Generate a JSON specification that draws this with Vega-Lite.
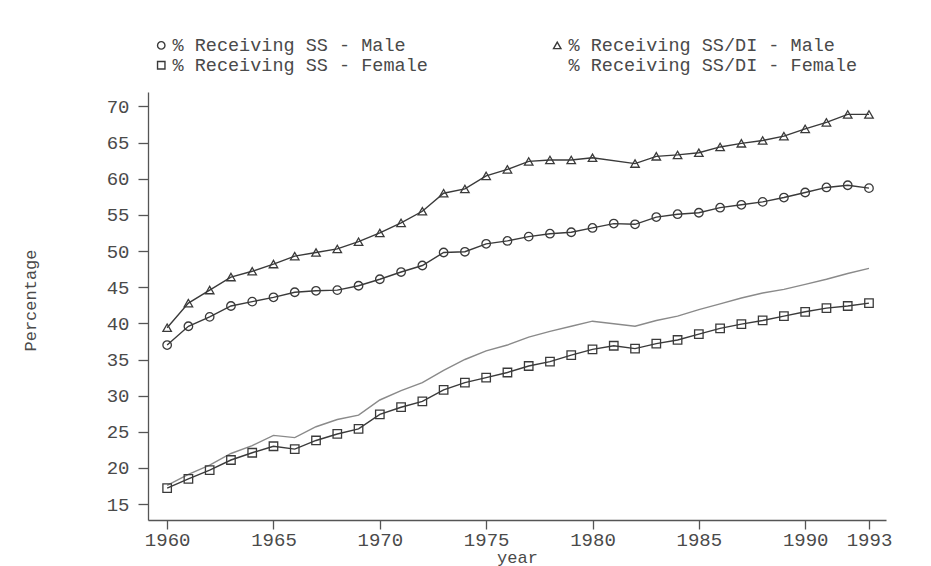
{
  "$schema": "https://vega.github.io/schema/vega-lite/v6.json",
  "autosize": {"type": "none"},
  "width": 738,
  "height": 428,
  "padding": {"left": 148, "top": 92, "right": 45, "bottom": 46},
  "background": "white",
  "config": {
    "view": {"stroke": null},
    "font": "Liberation Mono",
    "axis": {
      "grid": false,
      "domainColor": "#555555",
      "domainWidth": 1.3,
      "tickColor": "#555555",
      "tickWidth": 1.3,
      "labelColor": "#4a4a4a",
      "titleColor": "#4a4a4a",
      "labelFont": "Liberation Mono",
      "titleFont": "Liberation Mono",
      "labelFontSize": 19,
      "titleFontSize": 17,
      "titleFontWeight": "normal"
    },
    "legend": {"labelFont": "Liberation Mono", "labelFontSize": 18.5, "labelColor": "#4a4a4a", "labelLimit": 500}
  },
  "data": {
    "values": [
      {"year": 1960, "series": "% Receiving SS - Male", "value": 37.0},
      {"year": 1961, "series": "% Receiving SS - Male", "value": 39.6},
      {"year": 1962, "series": "% Receiving SS - Male", "value": 40.9},
      {"year": 1963, "series": "% Receiving SS - Male", "value": 42.4},
      {"year": 1964, "series": "% Receiving SS - Male", "value": 43.0},
      {"year": 1965, "series": "% Receiving SS - Male", "value": 43.6},
      {"year": 1966, "series": "% Receiving SS - Male", "value": 44.3},
      {"year": 1967, "series": "% Receiving SS - Male", "value": 44.5},
      {"year": 1968, "series": "% Receiving SS - Male", "value": 44.6},
      {"year": 1969, "series": "% Receiving SS - Male", "value": 45.2},
      {"year": 1970, "series": "% Receiving SS - Male", "value": 46.1},
      {"year": 1971, "series": "% Receiving SS - Male", "value": 47.1},
      {"year": 1972, "series": "% Receiving SS - Male", "value": 48.0},
      {"year": 1973, "series": "% Receiving SS - Male", "value": 49.8},
      {"year": 1974, "series": "% Receiving SS - Male", "value": 49.9},
      {"year": 1975, "series": "% Receiving SS - Male", "value": 51.0},
      {"year": 1976, "series": "% Receiving SS - Male", "value": 51.4},
      {"year": 1977, "series": "% Receiving SS - Male", "value": 52.0},
      {"year": 1978, "series": "% Receiving SS - Male", "value": 52.4},
      {"year": 1979, "series": "% Receiving SS - Male", "value": 52.6},
      {"year": 1980, "series": "% Receiving SS - Male", "value": 53.2},
      {"year": 1981, "series": "% Receiving SS - Male", "value": 53.8},
      {"year": 1982, "series": "% Receiving SS - Male", "value": 53.7},
      {"year": 1983, "series": "% Receiving SS - Male", "value": 54.7},
      {"year": 1984, "series": "% Receiving SS - Male", "value": 55.1},
      {"year": 1985, "series": "% Receiving SS - Male", "value": 55.3},
      {"year": 1986, "series": "% Receiving SS - Male", "value": 56.0},
      {"year": 1987, "series": "% Receiving SS - Male", "value": 56.4},
      {"year": 1988, "series": "% Receiving SS - Male", "value": 56.8},
      {"year": 1989, "series": "% Receiving SS - Male", "value": 57.4},
      {"year": 1990, "series": "% Receiving SS - Male", "value": 58.1},
      {"year": 1991, "series": "% Receiving SS - Male", "value": 58.8},
      {"year": 1992, "series": "% Receiving SS - Male", "value": 59.1},
      {"year": 1993, "series": "% Receiving SS - Male", "value": 58.7},

      {"year": 1960, "series": "% Receiving SS/DI - Male", "value": 39.4},
      {"year": 1961, "series": "% Receiving SS/DI - Male", "value": 42.8},
      {"year": 1962, "series": "% Receiving SS/DI - Male", "value": 44.6},
      {"year": 1963, "series": "% Receiving SS/DI - Male", "value": 46.4},
      {"year": 1964, "series": "% Receiving SS/DI - Male", "value": 47.2},
      {"year": 1965, "series": "% Receiving SS/DI - Male", "value": 48.2},
      {"year": 1966, "series": "% Receiving SS/DI - Male", "value": 49.3},
      {"year": 1967, "series": "% Receiving SS/DI - Male", "value": 49.8},
      {"year": 1968, "series": "% Receiving SS/DI - Male", "value": 50.3},
      {"year": 1969, "series": "% Receiving SS/DI - Male", "value": 51.3},
      {"year": 1970, "series": "% Receiving SS/DI - Male", "value": 52.5},
      {"year": 1971, "series": "% Receiving SS/DI - Male", "value": 53.9},
      {"year": 1972, "series": "% Receiving SS/DI - Male", "value": 55.5},
      {"year": 1973, "series": "% Receiving SS/DI - Male", "value": 58.0},
      {"year": 1974, "series": "% Receiving SS/DI - Male", "value": 58.6},
      {"year": 1975, "series": "% Receiving SS/DI - Male", "value": 60.4},
      {"year": 1976, "series": "% Receiving SS/DI - Male", "value": 61.3},
      {"year": 1977, "series": "% Receiving SS/DI - Male", "value": 62.4},
      {"year": 1978, "series": "% Receiving SS/DI - Male", "value": 62.6},
      {"year": 1979, "series": "% Receiving SS/DI - Male", "value": 62.6},
      {"year": 1980, "series": "% Receiving SS/DI - Male", "value": 62.9},
      {"year": 1982, "series": "% Receiving SS/DI - Male", "value": 62.1},
      {"year": 1983, "series": "% Receiving SS/DI - Male", "value": 63.1},
      {"year": 1984, "series": "% Receiving SS/DI - Male", "value": 63.3},
      {"year": 1985, "series": "% Receiving SS/DI - Male", "value": 63.6},
      {"year": 1986, "series": "% Receiving SS/DI - Male", "value": 64.4},
      {"year": 1987, "series": "% Receiving SS/DI - Male", "value": 64.9},
      {"year": 1988, "series": "% Receiving SS/DI - Male", "value": 65.3},
      {"year": 1989, "series": "% Receiving SS/DI - Male", "value": 65.9},
      {"year": 1990, "series": "% Receiving SS/DI - Male", "value": 66.9},
      {"year": 1991, "series": "% Receiving SS/DI - Male", "value": 67.8},
      {"year": 1992, "series": "% Receiving SS/DI - Male", "value": 68.9},
      {"year": 1993, "series": "% Receiving SS/DI - Male", "value": 68.9},

      {"year": 1960, "series": "% Receiving SS - Female", "value": 17.2},
      {"year": 1961, "series": "% Receiving SS - Female", "value": 18.5},
      {"year": 1962, "series": "% Receiving SS - Female", "value": 19.7},
      {"year": 1963, "series": "% Receiving SS - Female", "value": 21.1},
      {"year": 1964, "series": "% Receiving SS - Female", "value": 22.1},
      {"year": 1965, "series": "% Receiving SS - Female", "value": 23.0},
      {"year": 1966, "series": "% Receiving SS - Female", "value": 22.6},
      {"year": 1967, "series": "% Receiving SS - Female", "value": 23.8},
      {"year": 1968, "series": "% Receiving SS - Female", "value": 24.7},
      {"year": 1969, "series": "% Receiving SS - Female", "value": 25.4},
      {"year": 1970, "series": "% Receiving SS - Female", "value": 27.4},
      {"year": 1971, "series": "% Receiving SS - Female", "value": 28.4},
      {"year": 1972, "series": "% Receiving SS - Female", "value": 29.2},
      {"year": 1973, "series": "% Receiving SS - Female", "value": 30.8},
      {"year": 1974, "series": "% Receiving SS - Female", "value": 31.8},
      {"year": 1975, "series": "% Receiving SS - Female", "value": 32.5},
      {"year": 1976, "series": "% Receiving SS - Female", "value": 33.2},
      {"year": 1977, "series": "% Receiving SS - Female", "value": 34.1},
      {"year": 1978, "series": "% Receiving SS - Female", "value": 34.7},
      {"year": 1979, "series": "% Receiving SS - Female", "value": 35.6},
      {"year": 1980, "series": "% Receiving SS - Female", "value": 36.4},
      {"year": 1981, "series": "% Receiving SS - Female", "value": 36.9},
      {"year": 1982, "series": "% Receiving SS - Female", "value": 36.5},
      {"year": 1983, "series": "% Receiving SS - Female", "value": 37.2},
      {"year": 1984, "series": "% Receiving SS - Female", "value": 37.7},
      {"year": 1985, "series": "% Receiving SS - Female", "value": 38.5},
      {"year": 1986, "series": "% Receiving SS - Female", "value": 39.3},
      {"year": 1987, "series": "% Receiving SS - Female", "value": 39.9},
      {"year": 1988, "series": "% Receiving SS - Female", "value": 40.4},
      {"year": 1989, "series": "% Receiving SS - Female", "value": 41.0},
      {"year": 1990, "series": "% Receiving SS - Female", "value": 41.6},
      {"year": 1991, "series": "% Receiving SS - Female", "value": 42.1},
      {"year": 1992, "series": "% Receiving SS - Female", "value": 42.4},
      {"year": 1993, "series": "% Receiving SS - Female", "value": 42.8},

      {"year": 1960, "series": "% Receiving SS/DI - Female", "value": 17.6},
      {"year": 1961, "series": "% Receiving SS/DI - Female", "value": 19.1},
      {"year": 1962, "series": "% Receiving SS/DI - Female", "value": 20.4},
      {"year": 1963, "series": "% Receiving SS/DI - Female", "value": 22.0},
      {"year": 1964, "series": "% Receiving SS/DI - Female", "value": 23.1},
      {"year": 1965, "series": "% Receiving SS/DI - Female", "value": 24.5},
      {"year": 1966, "series": "% Receiving SS/DI - Female", "value": 24.2},
      {"year": 1967, "series": "% Receiving SS/DI - Female", "value": 25.7},
      {"year": 1968, "series": "% Receiving SS/DI - Female", "value": 26.7},
      {"year": 1969, "series": "% Receiving SS/DI - Female", "value": 27.3},
      {"year": 1970, "series": "% Receiving SS/DI - Female", "value": 29.4},
      {"year": 1971, "series": "% Receiving SS/DI - Female", "value": 30.7},
      {"year": 1972, "series": "% Receiving SS/DI - Female", "value": 31.8},
      {"year": 1973, "series": "% Receiving SS/DI - Female", "value": 33.5},
      {"year": 1974, "series": "% Receiving SS/DI - Female", "value": 35.0},
      {"year": 1975, "series": "% Receiving SS/DI - Female", "value": 36.2},
      {"year": 1976, "series": "% Receiving SS/DI - Female", "value": 37.0},
      {"year": 1977, "series": "% Receiving SS/DI - Female", "value": 38.1},
      {"year": 1978, "series": "% Receiving SS/DI - Female", "value": 38.9},
      {"year": 1979, "series": "% Receiving SS/DI - Female", "value": 39.6},
      {"year": 1980, "series": "% Receiving SS/DI - Female", "value": 40.3},
      {"year": 1982, "series": "% Receiving SS/DI - Female", "value": 39.6},
      {"year": 1983, "series": "% Receiving SS/DI - Female", "value": 40.4},
      {"year": 1984, "series": "% Receiving SS/DI - Female", "value": 41.0},
      {"year": 1985, "series": "% Receiving SS/DI - Female", "value": 41.9},
      {"year": 1986, "series": "% Receiving SS/DI - Female", "value": 42.7},
      {"year": 1987, "series": "% Receiving SS/DI - Female", "value": 43.5},
      {"year": 1988, "series": "% Receiving SS/DI - Female", "value": 44.2},
      {"year": 1989, "series": "% Receiving SS/DI - Female", "value": 44.7},
      {"year": 1990, "series": "% Receiving SS/DI - Female", "value": 45.4},
      {"year": 1991, "series": "% Receiving SS/DI - Female", "value": 46.1},
      {"year": 1992, "series": "% Receiving SS/DI - Female", "value": 46.9},
      {"year": 1993, "series": "% Receiving SS/DI - Female", "value": 47.6}
    ]
  },
  "encoding": {
    "x": {
      "field": "year",
      "type": "quantitative",
      "title": "year",
      "scale": {"domain": [1959.1, 1993.8], "nice": false, "zero": false},
      "axis": {
        "values": [1960, 1965, 1970, 1975, 1980, 1985, 1990, 1993],
        "format": "d",
        "tickSize": 9,
        "labelPadding": 1,
        "titlePadding": 0,
        "labelFlush": false
      }
    },
    "y": {
      "field": "value",
      "type": "quantitative",
      "title": "Percentage",
      "scale": {"domain": [12.8, 72.0], "nice": false, "zero": false},
      "axis": {
        "values": [15, 20, 25, 30, 35, 40, 45, 50, 55, 60, 65, 70],
        "tickSize": 10,
        "labelPadding": 9,
        "titleX": -118,
        "titleY": 208,
        "titleAngle": -90,
        "titleAlign": "center",
        "titleBaseline": "middle"
      }
    }
  },
  "layer": [
    {
      "transform": [{"filter": "datum.series !== '% Receiving SS/DI - Female'"}],
      "mark": {"type": "line", "strokeWidth": 1.4, "color": "#3a3a3a"},
      "encoding": {"detail": {"field": "series", "type": "nominal"}}
    },
    {
      "transform": [{"filter": "datum.series === '% Receiving SS/DI - Female'"}],
      "mark": {"type": "line", "strokeWidth": 1.4, "color": "#8a8a8a"},
      "encoding": {"detail": {"field": "series", "type": "nominal"}}
    },
    {
      "transform": [{"filter": "datum.series !== '% Receiving SS/DI - Female'"}],
      "mark": {"type": "point", "filled": false, "size": 72, "strokeWidth": 1.3, "color": "#3a3a3a", "opacity": 1},
      "encoding": {
        "shape": {
          "field": "series",
          "type": "nominal",
          "title": null,
          "scale": {
            "domain": ["% Receiving SS - Male", "% Receiving SS - Female", "% Receiving SS/DI - Male", "% Receiving SS/DI - Female"],
            "range": ["circle", "square", "triangle-up", "M0,0"]
          },
          "legend": {
            "orient": "none",
            "legendX": 4,
            "legendY": -56,
            "columns": 2,
            "columnPadding": 120,
            "rowPadding": 1,
            "symbolSize": 55,
            "symbolStrokeWidth": 1.4,
            "symbolStrokeColor": "#3a3a3a",
            "symbolFillColor": "transparent",
            "symbolOffset": 0,
            "labelOffset": 2
          }
        }
      }
    }
  ]
}
